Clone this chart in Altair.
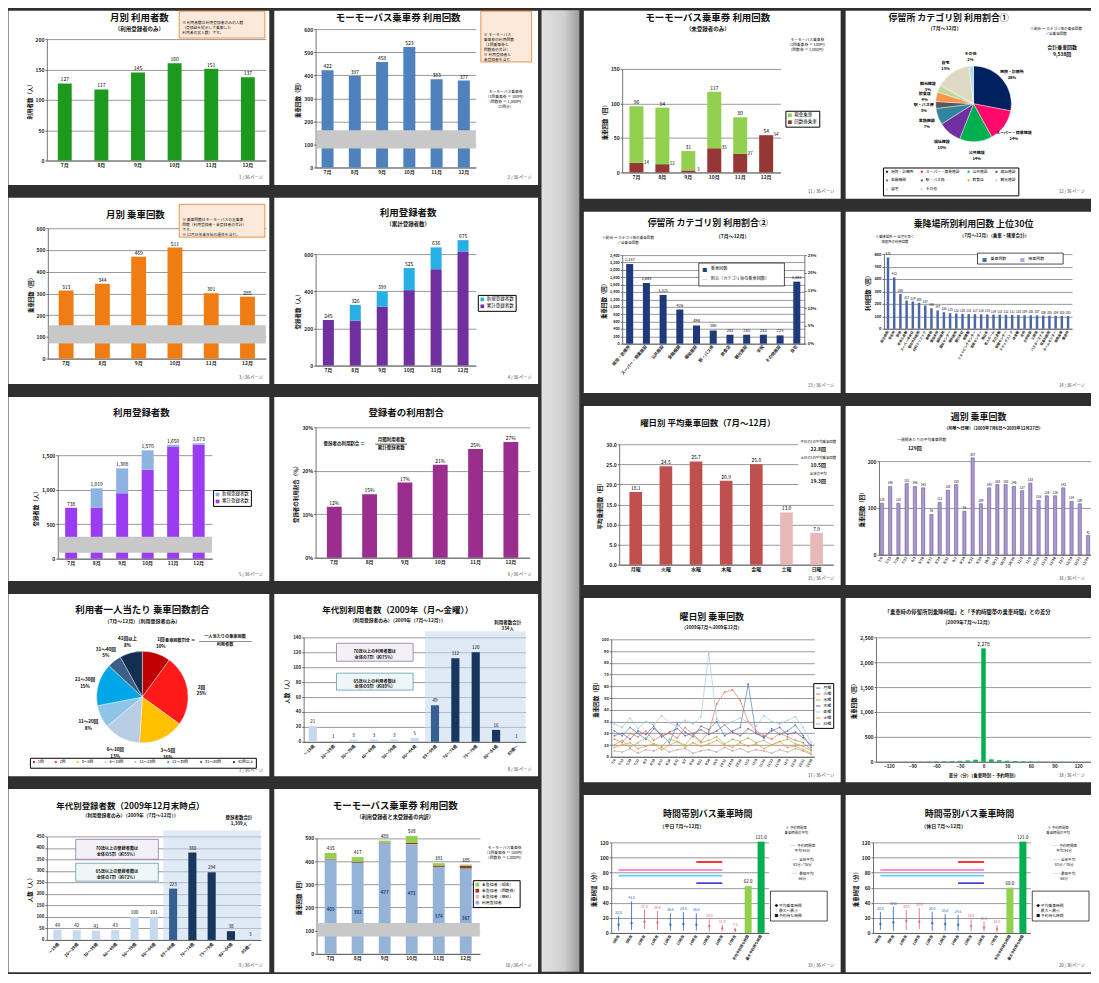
import altair as alt
import pandas as pd

FONT = "Noto Sans CJK JP"
DARK = "#2f2f2f"
GRID = "#8e8e8e"
AXC = "#505050"
NOTE_FILL = "#fde9d9"
NOTE_LINE = "#e46c0a"
COMMA = "format(datum.value, ',')"
ONE = pd.DataFrame({"d": [0]})

# ---------------- data ----------------
MONTHS = ["7月", "8月", "9月", "10月", "11月", "12月"]
L1_USERS = [127, 117, 145, 160, 151, 137]
L2_RIDES = [422, 397, 458, 523, 383, 377]
L3_RIDES = [313, 344, 469, 511, 301, 285]
L4_TOTAL_REG = [245, 242, 317, 406, 519, 614]
L4_NEW_REG = [0, 84, 82, 119, 117, 61]
L5_TOTAL_REG = [738, 738, 949, 1290, 1626, 1650]
L5_NEW_REG = [0, 281, 359, 280, 24, 23]
L6_RATE = [11.7, 14.6, 17.3, 21.4, 25.0, 26.6]
L7_CATS = ["1回", "2回", "3〜5回", "6〜10回", "11〜20回", "21〜30回", "31〜40回", "41回以上"]
L7_PCT = [10, 25, 16, 13, 8, 15, 5, 8]
AGES = ["〜19歳", "20〜29歳", "30〜39歳", "40〜49歳", "50〜59歳", "60〜64歳",
        "65〜69歳", "70〜74歳", "75〜79歳", "80〜84歳", "85歳〜"]
L8_USERS = [21, 1, 3, 3, 3, 5, 49, 112, 120, 16, 1]
L9_REGS = [44, 42, 41, 43, 100, 101, 223, 380, 294, 38, 3]
L10_REG = [405, 392, 477, 471, 374, 367]
L10_FREE = [2, 1, 0, 2, 1, 1]
L10_TICKET = [3, 4, 3, 5, 6, 12]
L10_CASH = [25, 20, 8, 30, 10, 5]

R1_TICKET = [14, 12, 3, 35, 27, 54]
R1_CASH = [82, 82, 28, 82, 53, 0]
R2_CATS = ["病院・診療所", "スーパー・商業施設", "公共施設", "福祉施設", "金融機関",
           "駅・バス停", "飲食店", "観光施設", "自宅", "その他"]
R2_PCT = [28, 14, 14, 10, 7, 3, 4, 3, 15, 2]
R3_CATS = ["病院・診療所", "スーパー・商業施設", "公共施設", "金融機関", "福祉施設",
           "駅・バス停", "飲食店", "観光施設", "学校", "その他施設", "自宅"]
R3_RIDES = [2157, 1645, 1321, 926, 494, 360, 243, 243, 243, 225, 1681]
R3_SHARE = [22.6, 17.2, 13.9, 9.7, 5.2, 3.8, 2.5, 2.5, 2.5, 2.4, 17.6]
R4_NAMES = ["総合病院", "市役所", "駅前", "中央公民館", "スーパー中央店", "整形外科医院",
            "内科クリニック", "郵便局", "農協本所", "歯科医院", "福祉センター", "眼科医院",
            "銀行本店", "図書館", "ショッピングセンター", "温泉センター", "商店街", "老人ホーム",
            "文化会館", "保健センター", "ドラッグストア", "体育館", "支所", "小学校前",
            "公園前", "バスターミナル", "耳鼻科医院", "ホームセンター", "信用金庫", "集会所"]
R4_RIDES = [573, 413, 280, 227, 219, 208, 187, 165, 147, 133, 125, 122, 120, 118, 117,
            116, 115, 114, 113, 112, 111, 110, 109, 108, 107, 106, 105, 104, 103, 102]
WEEKDAYS = ["月曜", "火曜", "水曜", "木曜", "金曜", "土曜", "日曜"]
R5_AVG = [18.1, 24.5, 25.7, 20.9, 25.0, 13.0, 7.9]
WEEKS = ["7/6", "7/13", "7/20", "7/27", "8/3", "8/10", "8/17", "8/24", "8/31", "9/7",
         "9/14", "9/21", "9/28", "10/5", "10/12", "10/19", "10/26", "11/2", "11/9",
         "11/16", "11/23", "11/30", "12/7", "12/14", "12/21", "12/28"]
R6_RIDES = [110, 146, 110, 152, 146, 143, 86, 112, 138, 150, 93, 207, 109, 143, 150,
            150, 146, 137, 153, 116, 126, 126, 143, 114, 109, 41]
R7_MON = [22, 18, 25, 20, 15, 24, 19, 12, 28, 21, 17, 26, 23, 30, 18, 22, 25, 62, 20, 16, 24, 19, 22, 27, 18, 8]
R7_TUE = [15, 12, 20, 17, 22, 14, 18, 20, 16, 25, 19, 13, 21, 45, 55, 57, 48, 30, 22, 18, 15, 20, 17, 14, 12, 6]
R7_WED = [10, 14, 8, 12, 16, 11, 9, 15, 13, 10, 18, 12, 14, 17, 11, 15, 13, 16, 12, 14, 10, 13, 15, 11, 9, 5]
R7_THU = [18, 20, 15, 22, 19, 26, 17, 21, 24, 18, 20, 23, 19, 22, 27, 21, 18, 24, 20, 17, 22, 25, 19, 21, 16, 10]
R7_FRI = [28, 25, 33, 24, 30, 27, 35, 29, 26, 31, 28, 34, 88, 32, 27, 30, 33, 29, 26, 35, 30, 28, 31, 34, 25, 12]
R7_SAT = [8, 10, 12, 7, 9, 11, 6, 10, 13, 8, 12, 9, 11, 14, 10, 8, 12, 9, 11, 7, 10, 13, 8, 9, 6, 3]
R7_SUN = [5, 4, 7, 3, 6, 5, 8, 4, 6, 7, 3, 5, 6, 4, 8, 5, 7, 4, 6, 5, 3, 6, 4, 7, 5, 2]
R8_DIFF = [-120, -110, -100, -90, -80, -70, -60, -50, -40, -30, -20, -10, 0,
           10, 20, 30, 40, 50, 60, 70, 80, 90, 100, 110, 120]
R8_COUNT = [3, 2, 4, 3, 5, 6, 8, 10, 14, 18, 26, 41, 2278, 48, 30, 21, 15, 11, 8, 6, 5, 4, 3, 2, 2]
SLOTS = ["8時台", "9時台", "10時台", "11時台", "12時台", "13時台", "14時台", "15時台", "16時台", "17時台"]
WAIT_NAMES = ["平均予約待ち時間", "最大予約待ち時間"]
R9_MEAN = [11, 13, 15, 14, 11, 12, 11, 9, 6, 4]
R9_MAX = [22, 42, 31, 29, 26, 28, 26, 18, 11, 7]
R9_MIN = [3, 4, 5, 4, 3, 3, 3, 2, 2, 1]
R9_WAIT = [62.0, 121.0]
R10_MEAN = [12, 14, 16, 15, 13, 12, 11, 9, 7, 5]
R10_MAX = [28, 35, 30, 33, 28, 25, 24, 18, 15, 10]
R10_MIN = [4, 3, 4, 5, 3, 3, 3, 2, 2, 1]
R10_WAIT = [60.0, 121.0]
REF_FROM = ["8時台", "8時台", "14時台", "14時台"]
REF_TO = ["16時台", "16時台", "16時台", "16時台"]
REF_VALS = [83.5, 76.0, 94.0, 66.0]

# ---------------- styles ----------------
L7_COLORS = ["#c00000", "#ff1a1a", "#ffc000", "#b9cde5", "#8ec5e6", "#00a6e8", "#3b5f86", "#132e4f"]
R2_COLORS = ["#002060", "#ff0a6c", "#00b050", "#7030a0", "#31859c", "#595959",
             "#f79646", "#c3d69b", "#ddd9c3", "#b7dee8"]
AGE_COLORS = ["#c6d9f1"] * 6 + ["#366092", "#17375e", "#17375e", "#17375e", "#c6d9f1"]
DAY_COLORS = ["#c0504d"] * 5 + ["#e6b9b8", "#e6b9b8"]
R7_COLORS = ["#4f81bd", "#e07b5a", "#9bbb59", "#8064a2", "#a5c8e0", "#f79646", "#c9a0a0"]
SLOT_COLORS = ["#1f5fbf", "#1f5fbf", "#d9607a", "#d9607a", "#1f5fbf", "#1f5fbf",
               "#1f5fbf", "#d9607a", "#d9607a", "#d9607a"]
REF_COLORS = ["#ff66cc", "#66ccff", "#ff0000", "#3333cc"]


# ---------------- helpers ----------------
def bx(cats, x0, x1, pi, po, axis=None, field="c"):
    kw = dict(sort=cats, scale=alt.Scale(domain=cats, range=[x0, x1], paddingInner=pi, paddingOuter=po))
    if axis is not None:
        kw["axis"] = axis
    return alt.X(f"{field}:N", **kw)


def ly(dom, top, bot, field="v", axis=None):
    kw = dict(scale=alt.Scale(domain=dom, range=[bot, top], nice=False, zero=False))
    if axis is not None:
        kw["axis"] = axis
    return alt.Y(f"{field}:Q", **kw)


def yaxis(x0, title, values, expr=None, fs=5.0, orient="left", grid=True):
    kw = dict(orient=orient, offset=-x0, title=title, values=values, tickCount=100, grid=grid,
              gridColor=GRID, gridWidth=0.9, domainColor=AXC, domainWidth=0.8, tickColor=AXC,
              tickSize=2, tickWidth=0.8, labelFontSize=fs, labelFontWeight="bold", labelColor="#222",
              labelPadding=1, labelOverlap=False, titleFontSize=5.5, titleFontWeight="bold",
              titleColor="#111", titlePadding=3)
    if expr:
        kw["labelExpr"] = expr
    return alt.Axis(**kw)


def xaxis(h, bot, angle=0, fs=5.0, values=None):
    kw = dict(offset=-(h - bot), title=None, grid=False, domainColor=AXC, domainWidth=0.8,
              ticks=False, labelFontSize=fs, labelFontWeight="bold", labelColor="#222",
              labelPadding=2, labelAngle=angle, labelOverlap=False)
    if values is not None:
        kw["values"] = values
        kw["tickCount"] = 100
    return alt.Axis(**kw)


def txt(t, x, y, size=5.0, weight="normal", align="center", color="#111"):
    return alt.Chart(ONE).mark_text(fontSize=size, fontWeight=weight, align=align,
                                    baseline="middle", color=color, lineHeight=size * 1.3).encode(
        x=alt.value(x), y=alt.value(y), text=alt.value(t))


def box(x, y, x2, y2, fill="white", stroke="#000000", sw=0.7, opacity=1.0):
    return alt.Chart(ONE).mark_rect(fill=fill, stroke=stroke, strokeWidth=sw, opacity=opacity).encode(
        x=alt.value(x), x2=alt.value(x2), y=alt.value(y), y2=alt.value(y2))


def fillbox(x, y, x2, y2, fill, opacity=1.0):
    return alt.Chart(ONE).mark_rect(fill=fill, opacity=opacity).encode(
        x=alt.value(x), x2=alt.value(x2), y=alt.value(y), y2=alt.value(y2))


def pg(n, w, h):
    return txt(f"{n} / 36 ページ", w - 6, h - 6, 4.2, align="right", color="#333")


def leg(x, y, cols=1, fs=4.5, sym="square", sz=14, direction="vertical", colpad=4):
    return alt.Legend(orient="none", legendX=x, legendY=y, title=None, columns=cols,
                      direction=direction, labelFontSize=fs, symbolSize=sz, symbolType=sym,
                      strokeColor="#000000", fillColor="white", padding=2, rowPadding=1,
                      columnPadding=colpad, labelLimit=150, labelOffset=2, symbolStrokeWidth=1)


def slide(w, h, *layers):
    return alt.layer(*layers).properties(
        width=w, height=h, view=alt.ViewBackground(fill="white", strokeOpacity=0))


def stack_df(cats, series):
    rows = []
    for i, c in enumerate(cats):
        base = 0
        for name, vals in series:
            v = vals[i]
            rows.append({"c": c, "s": name, "lo": base, "hi": base + v, "v": v})
            base += v
    return pd.DataFrame(rows)


def breakband(lo, hi, x0, x1, dom, top, bot):
    df = pd.DataFrame({"lo": [lo], "hi": [hi]})
    return alt.Chart(df).mark_rect(color="#c8c8c8").encode(
        x=alt.value(x0 + 1), x2=alt.value(x1), y=ly(dom, top, bot, "lo"), y2=alt.Y2("hi"))


# ---------------- left group ----------------
def make_L1():
    w, h = 262, 175
    x0, x1, top, bot = 39, 259, 29, 151
    dom = [0, 200]
    df = pd.DataFrame({"c": MONTHS, "v": L1_USERS})
    bars = alt.Chart(df).mark_bar(color="#1d9a1d").encode(
        x=bx(MONTHS, x0, x1, 0.62, 0.3, xaxis(h, bot)),
        y=ly(dom, top, bot, "v", yaxis(x0, "利用者数（人）", [0, 50, 100, 150, 200])))
    lab = alt.Chart(df).mark_text(dy=-4, fontSize=5).encode(
        x=bx(MONTHS, x0, x1, 0.62, 0.3), y=ly(dom, top, bot), text="v:Q")
    return slide(w, h, bars, lab,
                 txt("月別 利用者数", 132, 8, 9.5, "bold"),
                 txt("（利用登録者のみ）", 132, 19, 5.5, "bold"),
                 box(172, 1, 258, 28, NOTE_FILL, NOTE_LINE),
                 txt(["※ 利用者数は利用登録者のみの人数", "（登録証を提示して乗車した", "利用者の実人数）です。"],
                     175, 13, 3.8, align="left"),
                 pg(1, w, h))


def make_L2():
    w, h = 265, 175
    x0, x1, top, bot = 42, 203, 19, 158
    dom = [0, 600]
    df = pd.DataFrame({"c": MONTHS, "v": L2_RIDES})
    X = lambda a=None: bx(MONTHS, x0, x1, 0.56, 0.22, a)
    bars = alt.Chart(df).mark_bar(color="#4f81bd").encode(
        x=X(xaxis(h, bot)), y=ly(dom, top, bot, "v", yaxis(x0, "乗車回数（回）", list(range(0, 601, 100)))))
    lab = alt.Chart(df).mark_text(dy=-4, fontSize=5).encode(x=X(), y=ly(dom, top, bot), text="v:Q")
    return slide(w, h, bars, lab, breakband(82, 162, x0, x1, dom, top, bot),
                 txt("モーモーバス乗車券 利用回数", 125, 8, 9.5, "bold"),
                 box(208, 1, 259, 52, NOTE_FILL, NOTE_LINE),
                 txt(["※ モーモーバス", "乗車券の利用回数", "（1回乗車券と", "回数券の合計）", "※ 利用登録者と", "未登録者を含む"],
                     211, 25, 3.8, align="left"),
                 txt(["モーモーバス乗車券", "（1回乗車券 ＝ 100円）", "（回数券 ＝ 1,000円／", "11回分）"],
                     233, 82, 3.8),
                 pg(2, w, h))


def make_L3():
    w, h = 262, 187
    x0, x1, top, bot = 40, 259, 31, 162
    dom = [0, 600]
    df = pd.DataFrame({"c": MONTHS, "v": L3_RIDES})
    X = lambda a=None: bx(MONTHS, x0, x1, 0.59, 0.3, a)
    bars = alt.Chart(df).mark_bar(color="#f07c14").encode(
        x=X(xaxis(h, bot)), y=ly(dom, top, bot, "v", yaxis(x0, "乗車回数（回）", list(range(0, 601, 100)))))
    lab = alt.Chart(df).mark_text(dy=-4, fontSize=5).encode(x=X(), y=ly(dom, top, bot), text="v:Q")
    return slide(w, h, bars, lab, breakband(69, 153, x0, x1, dom, top, bot),
                 txt("月別 乗車回数", 128, 18, 9.5, "bold"),
                 box(172, 7, 258, 40, NOTE_FILL, NOTE_LINE),
                 txt(["※ 乗車回数はモーモーバスの全乗車", "回数（利用登録者・未登録者の合計）", "です。", "※ 12月は年末年始の運休を含む。"],
                     175, 23, 3.8, align="left"),
                 pg(3, w, h))


def make_L4():
    w, h = 265, 187
    x0, x1, top, bot = 42, 203, 57, 169
    dom = [0, 600]
    X = lambda a=None: bx(MONTHS, x0, x1, 0.59, 0.27, a)
    st = stack_df(MONTHS, [("累計登録者数", L4_TOTAL_REG), ("新規登録者数", L4_NEW_REG)])
    tot = pd.DataFrame({"c": MONTHS, "t": [a + b for a, b in zip(L4_TOTAL_REG, L4_NEW_REG)]})
    bars = alt.Chart(st).mark_bar().encode(
        x=X(xaxis(h, bot)),
        y=ly(dom, top, bot, "hi", yaxis(x0, "登録者数（人）", [0, 200, 400, 600])), y2=alt.Y2("lo"),
        color=alt.Color("s:N", scale=alt.Scale(domain=["新規登録者数", "累計登録者数"],
                                               range=["#27b0e6", "#7030a0"]), legend=leg(205, 98)))
    lab = alt.Chart(tot).mark_text(dy=-4, fontSize=5).encode(x=X(), y=ly(dom, top, bot, "t"), text="t:Q")
    return slide(w, h, bars, lab,
                 txt("利用登録者数", 135, 16, 9.5, "bold"),
                 txt("（累計登録者数）", 135, 27, 5.5, "bold"),
                 pg(4, w, h))


def make_L5():
    w, h = 262, 185
    x0, x1, top, bot = 50, 205, 59, 163
    dom = [0, 1500]
    X = lambda a=None: bx(MONTHS, x0, x1, 0.53, 0.29, a)
    st = stack_df(MONTHS, [("累計登録者数", L5_TOTAL_REG), ("新規登録者数", L5_NEW_REG)])
    tot = pd.DataFrame({"c": MONTHS, "t": [a + b for a, b in zip(L5_TOTAL_REG, L5_NEW_REG)]})
    bars = alt.Chart(st).mark_bar().encode(
        x=X(xaxis(h, bot)),
        y=ly(dom, top, bot, "hi", yaxis(x0, "登録者数（人）", [0, 500, 1000, 1500], expr=COMMA)),
        y2=alt.Y2("lo"),
        color=alt.Color("s:N", scale=alt.Scale(domain=["新規登録者数", "累計登録者数"],
                                               range=["#8db3e2", "#9b3cf2"]), legend=leg(206, 94)))
    lab = alt.Chart(tot).mark_text(dy=-4, fontSize=5).encode(
        x=X(), y=ly(dom, top, bot, "t"), text=alt.Text("t:Q", format=","))
    return slide(w, h, bars, lab, breakband(86, 317, x0, x1, dom, top, bot),
                 txt("利用登録者数", 134, 17, 9.5, "bold"),
                 pg(5, w, h))


def make_L6():
    w, h = 265, 185
    x0, x1, top, bot = 42, 257, 31, 162
    dom = [0, 30]
    df = pd.DataFrame({"c": MONTHS, "v": L6_RATE})
    df["lab"] = [f"{v:.0f}%" for v in L6_RATE]
    X = lambda a=None: bx(MONTHS, x0, x1, 0.58, 0.32, a)
    bars = alt.Chart(df).mark_bar(color="#9b2d8f").encode(
        x=X(xaxis(h, bot)),
        y=ly(dom, top, bot, "v", yaxis(x0, "登録者の利用割合（％）", [0, 10, 20, 30], expr="datum.value + '%'")))
    lab = alt.Chart(df).mark_text(dy=-4, fontSize=5).encode(x=X(), y=ly(dom, top, bot), text="lab:N")
    return slide(w, h, bars, lab,
                 txt("登録者の利用割合", 133, 17, 9.5, "bold"),
                 txt("登録者の利用割合 ＝", 50, 48, 4.5, "bold", align="left"),
                 txt("月間利用者数", 118, 44, 4.5, "bold"),
                 fillbox(102, 47.6, 134, 48.4, "#222222"),
                 txt("累計登録者数", 118, 52, 4.5, "bold"),
                 pg(6, w, h))


def make_L7():
    w, h = 262, 183
    cx, cy = 135, 104
    df = pd.DataFrame({"k": L7_CATS, "v": L7_PCT, "i": list(range(len(L7_CATS)))})
    df["lab"] = [f"{k}\n{v}%" for k, v in zip(L7_CATS, L7_PCT)]
    arc = alt.Chart(df).mark_arc(radius=46, stroke="white", strokeWidth=0.4).encode(
        theta=alt.Theta("v:Q", stack=True), order=alt.Order("i:Q"),
        color=alt.Color("k:N", scale=alt.Scale(domain=L7_CATS, range=L7_COLORS),
                        legend=leg(22, 165, cols=8, fs=3.8, sz=8, direction="horizontal", colpad=8)),
        x=alt.value(cx), y=alt.value(cy))
    lab = alt.Chart(df).mark_text(radius=60, fontSize=4.6, fontWeight="bold", lineBreak="\n").encode(
        theta=alt.Theta("v:Q", stack=True), order=alt.Order("i:Q"), text="lab:N",
        x=alt.value(cx), y=alt.value(cy))
    return slide(w, h, arc, lab,
                 txt("利用者一人当たり 乗車回数割合", 135, 17, 9.5, "bold"),
                 txt("（7月〜12月）（利用登録者のみ）", 135, 28, 5, "bold"),
                 txt("乗車回数割合 ＝", 188, 48, 4.2, "bold", align="right"),
                 txt("一人当たりの乗車回数", 218, 44, 4.2, "bold"),
                 fillbox(192, 47.6, 245, 48.3, "#222222"),
                 txt("利用者数", 218, 52, 4.2, "bold"),
                 pg(7, w, h + 1))


def age_slide(w, h, x0, x1, top, bot, pi, po, dom, ticks, vals, shade_x, title, sub, total, c1, c2, n):
    df = pd.DataFrame({"c": AGES, "v": vals, "col": AGE_COLORS})
    X = lambda a=None: bx(AGES, x0, x1, pi, po, a)
    bars = alt.Chart(df).mark_bar().encode(
        x=X(xaxis(h, bot, -45, 4.2)), y=ly(dom, top, bot, "v", yaxis(x0, "人数（人）", ticks, fs=4.5)),
        color=alt.Color("col:N", scale=None))
    lab = alt.Chart(df).mark_text(dy=-4, fontSize=4.5).encode(x=X(), y=ly(dom, top, bot), text="v:Q")
    return slide(w, h,
                 fillbox(shade_x, top - 6, x1, bot, "#c6d9f1", 0.55),
                 bars, lab,
                 txt(title, w / 2 - 8, 17, 8.5, "bold"),
                 txt(sub, w / 2 - 8, 28, 4.8, "bold"),
                 txt(total, w - 30, 30, 4.5, "bold"),
                 box(c1[0], c1[1], c1[2], c1[3], "#f4f0f8", "#8064a2"),
                 txt(c1[4], (c1[0] + c1[2]) / 2, (c1[1] + c1[3]) / 2, 4.2, "bold"),
                 box(c2[0], c2[1], c2[2], c2[3], "#eef6f8", "#4b8ea6"),
                 txt(c2[4], (c2[0] + c2[2]) / 2, (c2[1] + c2[3]) / 2, 4.2, "bold"),
                 pg(n, w, h))


def make_L8():
    return age_slide(265, 183, 30, 253, 44, 149, 0.6, 0.25, [0, 140], list(range(0, 141, 20)),
                     L8_USERS, 152, "年代別利用者数（2009年（月〜金曜））",
                     "（利用登録者のみ）（2009年（7月〜12月））", ["利用者数合計", "334人"],
                     (63, 50, 140, 68, ["70歳以上の利用者数は", "全体の7割（約75%）"]),
                     (63, 80, 140, 97, ["65歳以上の利用者数は", "全体の9割（約89%）"]), 8)


def make_L9():
    return age_slide(262, 184, 39, 254, 48, 152, 0.58, 0.34, [0, 450], list(range(0, 451, 50)),
                     L9_REGS, 156, "年代別登録者数（2009年12月末時点）",
                     "（利用登録者のみ）（2009年（7月〜12月））", ["登録者数合計", "1,309人"],
                     (68, 51, 151, 71, ["70歳以上の登録者数は", "全体の5割（約55%）"]),
                     (68, 75, 151, 93, ["65歳以上の登録者数は", "全体の7割（約72%）"]), 9)


def make_L10():
    w, h = 265, 184
    x0, x1, top, bot = 43, 207, 49.5, 166
    dom = [0, 500]
    X = lambda a=None: bx(MONTHS, x0, x1, 0.56, 0.3, a)
    names = ["未登録者（現金）", "未登録者（回数券）", "未登録者（無料）", "利用登録者"]
    cols = ["#92d050", "#953735", "#e6b9b8", "#95b3d7"]
    st = stack_df(MONTHS, [(names[3], L10_REG), (names[2], L10_FREE),
                           (names[1], L10_TICKET), (names[0], L10_CASH)])
    tot = pd.DataFrame({"c": MONTHS, "t": [a + b + c + d for a, b, c, d in
                                             zip(L10_REG, L10_FREE, L10_TICKET, L10_CASH)],
                        "r": L10_REG})
    bars = alt.Chart(st).mark_bar().encode(
        x=X(xaxis(h, bot)),
        y=ly(dom, top, bot, "hi", yaxis(x0, "乗車回数（回）", list(range(0, 501, 100)))), y2=alt.Y2("lo"),
        color=alt.Color("s:N", scale=alt.Scale(domain=names, range=cols), legend=leg(200, 92, fs=4)))
    lab = alt.Chart(tot).mark_text(dy=-4, fontSize=4.8).encode(x=X(), y=ly(dom, top, bot, "t"), text="t:Q")
    rlab = alt.Chart(tot).mark_text(fontSize=4.5, color="#1f3a7a", fontWeight="bold", dy=50).encode(
        x=X(), y=ly(dom, top, bot, "r"), text="r:Q")
    return slide(w, h, bars, lab, rlab, breakband(75, 133, x0, x1, dom, top, bot),
                 txt("モーモーバス乗車券 利用回数", 122, 17, 9.5, "bold"),
                 txt("（利用登録者と未登録者の内訳）", 122, 29, 5.2, "bold"),
                 txt(["モーモーバス乗車券", "（1回乗車券 ＝ 100円）", "（回数券 ＝ 1,000円）"], 232, 60, 3.8),
                 pg(10, w, h))


# ---------------- right group ----------------
def make_R1():
    w, h = 258, 189
    x0, x1, top, bot = 39, 198, 59, 163
    dom = [0, 150]
    X = lambda a=None: bx(MONTHS, x0, x1, 0.46, 0.28, a)
    names = ["現金乗車", "回数券乗車"]
    st = stack_df(MONTHS, [(names[1], R1_TICKET), (names[0], R1_CASH)])
    tot = pd.DataFrame({"c": MONTHS, "t": [a + b for a, b in zip(R1_TICKET, R1_CASH)], "r": R1_TICKET})
    bars = alt.Chart(st).mark_bar().encode(
        x=X(xaxis(h, bot)),
        y=ly(dom, top, bot, "hi", yaxis(x0, "乗車回数（回）", [0, 50, 100, 150])), y2=alt.Y2("lo"),
        color=alt.Color("s:N", scale=alt.Scale(domain=names, range=["#92d050", "#953735"]),
                        legend=leg(203, 101)))
    lab = alt.Chart(tot).mark_text(dy=-4, fontSize=5).encode(x=X(), y=ly(dom, top, bot, "t"), text="t:Q")
    rl = alt.Chart(tot).mark_text(dx=10, fontSize=4.5).encode(x=X(), y=ly(dom, top, bot, "r"), text="r:Q")
    return slide(w, h, bars, lab, rl,
                 txt("モーモーバス乗車券 利用回数", 125, 8, 9.5, "bold"),
                 txt("（未登録者のみ）", 125, 19, 5.5, "bold"),
                 txt(["モーモーバス乗車券", "（1回乗車券 ＝ 100円）", "（回数券 ＝ 1,000円）"], 225, 30, 3.8),
                 pg(11, w, h))


def make_R2():
    w, h = 247, 189
    cx, cy = 129, 94
    df = pd.DataFrame({"k": R2_CATS, "v": R2_PCT, "i": list(range(len(R2_CATS)))})
    df["lab"] = [f"{k}\n{v}%" for k, v in zip(R2_CATS, R2_PCT)]
    arc = alt.Chart(df).mark_arc(radius=38, stroke="white", strokeWidth=0.4).encode(
        theta=alt.Theta("v:Q", stack=True), order=alt.Order("i:Q"),
        color=alt.Color("k:N", scale=alt.Scale(domain=R2_CATS, range=R2_COLORS),
                        legend=leg(38, 158, cols=4, fs=3.8, sz=9, direction="horizontal")),
        x=alt.value(cx), y=alt.value(cy))
    lab = alt.Chart(df).mark_text(radius=50, fontSize=4, fontWeight="bold", lineBreak="\n").encode(
        theta=alt.Theta("v:Q", stack=True), order=alt.Order("i:Q"), text="lab:N",
        x=alt.value(cx), y=alt.value(cy))
    return slide(w, h, arc, lab,
                 txt("停留所 カテゴリ別 利用割合①", 104, 8, 9, "bold"),
                 txt("（7月〜12月）", 100, 18, 5, "bold"),
                 txt(["※割合 ＝ カテゴリ毎の乗車回数", "／全乗車回数"], 212, 19, 3.6),
                 txt(["合計乗車回数", "9,538回"], 218, 37, 5, "bold"),
                 pg(12, w, h))


def make_R3():
    w, h = 258, 182
    x0, x1, top, bot = 39, 222, 44, 133
    dom = [0, 2400]
    df = pd.DataFrame({"c": R3_CATS, "v": R3_RIDES, "p": R3_SHARE})
    X = lambda a=None: bx(R3_CATS, x0, x1, 0.58, 0.24, a)
    bars = alt.Chart(df).mark_bar(color="#1f3a7a").encode(
        x=X(xaxis(h, bot, -50, 4.2)),
        y=ly(dom, top, bot, "v", yaxis(x0, "乗車回数（回）", list(range(0, 2401, 200)), expr=COMMA, fs=3.6)))
    lab = alt.Chart(df).mark_text(dy=-4, fontSize=4).encode(
        x=X(), y=ly(dom, top, bot), text=alt.Text("v:Q", format=","))
    inner = alt.layer(bars, lab,
                      box(116, 52, 202, 75),
                      txt("■", 122, 58, 5, color="#1f3a7a"),
                      txt("乗車回数", 128, 58, 4.2, align="left"),
                      txt("─", 122, 68, 5, color="#333333"),
                      txt("割合（カテゴリ毎の乗車回数）", 128, 68, 4.2, align="left"),
                      txt("停留所 カテゴリ別 利用割合②", 125, 12, 9, "bold"),
                      txt("（7月〜12月）", 150, 25, 5, "bold"),
                      txt(["※割合 ＝ カテゴリ毎の乗車回数", "／全乗車回数"], 45, 27, 3.6),
                      pg(13, w, h))
    pr = alt.Chart(df).mark_point(opacity=0).encode(
        x=X(),
        y=alt.Y("p:Q", scale=alt.Scale(domain=[0, 25], range=[bot, top], nice=False, zero=False),
                axis=yaxis(w - x1, None, [0, 5, 10, 15, 20, 25], expr="datum.value + '%'",
                           fs=4, orient="right", grid=False)))
    return alt.layer(inner, pr).resolve_scale(y="independent").properties(
        width=w, height=h, view=alt.ViewBackground(fill="white", strokeOpacity=0))


def make_R4():
    w, h = 247, 182
    x0, x1, top, bot = 39, 228, 43, 118
    dom = [0, 600]
    df = pd.DataFrame({"c": R4_NAMES, "v": R4_RIDES})
    X = lambda a=None: bx(R4_NAMES, x0, x1, 0.6, 0.45, a)
    bars = alt.Chart(df).mark_bar(color="#4a67a8").encode(
        x=X(xaxis(h, bot, -60, 3.3)),
        y=ly(dom, top, bot, "v", yaxis(x0, "利用回数（回）", list(range(0, 601, 100)), fs=4)))
    lab = alt.Chart(df).mark_text(dy=-3, fontSize=3).encode(x=X(), y=ly(dom, top, bot), text="v:Q")
    return slide(w, h, bars, lab,
                 txt("乗降場所別利用回数 上位30位", 129, 13, 9, "bold"),
                 txt("（7月〜12月）（乗車・降車合計）", 150, 25, 4.6, "bold"),
                 txt(["※乗降場所 ＝ 自宅を除く", "停留所の利用回数"], 50, 26, 3.4),
                 box(133, 42, 219, 53),
                 txt("■", 140, 47.5, 5, color="#4a67a8"),
                 txt("乗車回数", 146, 47.5, 4, align="left"),
                 txt("■", 178, 47.5, 5, color="#9fb3dd"),
                 txt("降車回数", 184, 47.5, 4, align="left"),
                 pg(14, w, h))


def make_R5():
    w, h = 258, 180
    x0, x1, top, bot = 36, 251, 39, 160
    dom = [0, 30]
    df = pd.DataFrame({"c": WEEKDAYS, "v": R5_AVG, "col": DAY_COLORS})
    X = lambda a=None: bx(WEEKDAYS, x0, x1, 0.58, 0.34, a)
    bars = alt.Chart(df).mark_bar().encode(
        x=X(xaxis(h, bot)),
        y=ly(dom, top, bot, "v", yaxis(x0, "平均乗車回数（回）", [0, 5, 10, 15, 20, 25, 30])),
        color=alt.Color("col:N", scale=None))
    lab = alt.Chart(df).mark_text(dy=-4, fontSize=5).encode(
        x=X(), y=ly(dom, top, bot), text=alt.Text("v:Q", format=".1f"))
    return slide(w, h, bars, lab,
                 txt("曜日別 平均乗車回数（7月〜12月）", 125, 18, 8.5, "bold"),
                 fillbox(216, 33, 256, 84, "white"),
                 txt("平日の1日平均乗車回数", 236, 37, 3.4),
                 txt("22.8回", 236, 44, 5, "bold"),
                 txt("土日の1日平均乗車回数", 236, 53, 3.4),
                 txt("10.5回", 236, 60, 5, "bold"),
                 txt("全体の平均", 236, 69, 3.4),
                 txt("19.3回", 236, 76, 5, "bold"),
                 pg(15, w, h))


def make_R6():
    w, h = 247, 180
    x0, x1, top, bot = 34, 247, 56, 150
    dom = [0, 200]
    df = pd.DataFrame({"c": WEEKS, "v": R6_RIDES})
    X = lambda a=None: bx(WEEKS, x0, x1, 0.6, 0.16, a)
    bars = alt.Chart(df).mark_bar(color="#a898cc", stroke="#5c4a8c", strokeWidth=0.5).encode(
        x=X(xaxis(h, bot, -60, 3.5)),
        y=ly(dom, top, bot, "v", yaxis(x0, "乗車回数（回）", [0, 100, 200])))
    lab = alt.Chart(df).mark_text(dy=-3, fontSize=3).encode(x=X(), y=ly(dom, top, bot), text="v:Q")
    return slide(w, h, bars, lab,
                 txt("週別 乗車回数", 134, 12, 9, "bold"),
                 txt("（月曜〜日曜）（2009年7月6日〜2009年12月27日）", 149, 24, 4.2, "bold"),
                 txt("一週間あたりの平均乗車回数", 77, 35, 3.8),
                 txt("129回", 70, 43, 5, "bold"),
                 pg(16, w, h))


def make_R7():
    w, h = 258, 185
    x0, x1, top, bot = 28, 232, 42, 160
    series = [("月曜", R7_MON), ("火曜", R7_TUE), ("水曜", R7_WED), ("木曜", R7_THU),
              ("金曜", R7_FRI), ("土曜", R7_SAT), ("日曜", R7_SUN)]
    rows = [{"w": WEEKS[i], "d": name, "v": vals[i]} for name, vals in series for i in range(len(WEEKS))]
    df = pd.DataFrame(rows)
    X = alt.X("w:N", sort=WEEKS, axis=xaxis(h, bot, -60, 3.3),
              scale=alt.Scale(type="point", domain=WEEKS, range=[x0, x1], padding=0.4))
    lines = alt.Chart(df).mark_line(strokeWidth=0.7, point=alt.OverlayMarkDef(size=3, filled=True)).encode(
        x=X, y=ly([0, 100], top, bot, "v", yaxis(x0, "乗車回数（回）", list(range(0, 101, 10)), fs=4)),
        color=alt.Color("d:N", scale=alt.Scale(domain=WEEKDAYS, range=R7_COLORS),
                        legend=leg(231, 86, fs=4, sym="stroke", sz=20)))
    return slide(w, h, lines,
                 txt("曜日別 乗車回数", 129, 20, 9, "bold"),
                 txt("（2009年7月〜2009年12月）", 129, 31, 4.5, "bold"),
                 pg(17, w, h))


def make_R8():
    w, h = 247, 185
    x0, top, bot = 31, 40, 165
    dom = [0, 2500]
    df = pd.DataFrame({"m": R8_DIFF, "n": R8_COUNT})

    def X(a=None):
        kw = dict(scale=alt.Scale(domain=[-130, 130], range=[x0, 247], nice=False, zero=False))
        if a is not None:
            kw["axis"] = a
        return alt.X("m:Q", **kw)
    bars = alt.Chart(df).mark_bar(color="#00b050", size=4.5).encode(
        x=X(xaxis(h, bot, 0, 4.5, [-120, -90, -60, -30, 0, 30, 60, 90, 120])),
        y=ly(dom, top, bot, "n", yaxis(x0, "乗車回数（回）", list(range(0, 2501, 500)), expr=COMMA)))
    lab = alt.Chart(df).transform_filter(alt.datum.n > 1000).mark_text(dy=-4, fontSize=5).encode(
        x=X(), y=ly(dom, top, bot, "n"), text=alt.Text("n:Q", format=","))
    return slide(w, h, bars, lab,
                 txt("「乗車時の停留所別乗降時間」と「予約時間帯の乗車時間」との差分", 123, 15, 5.4, "bold"),
                 txt("（2009年7月〜12月）", 123, 25, 5, "bold"),
                 txt("差分（分）（乗車時刻 − 予約時刻）", 139, 179, 4.5, "bold"),
                 pg(18, w, h))


def make_R9(w, mean, mx, mn, waits, sub, n):
    h = 178
    x0, x1, top, bot = 28, 186, 48, 139
    dom = [0, 120]
    cats = SLOTS + WAIT_NAMES
    X = lambda a=None, f="c": bx(cats, x0, x1, 0.46, 0.3, a, f)
    g = pd.DataFrame({"c": WAIT_NAMES, "v": waits, "col": ["#92d050", "#00b050"]})
    s = pd.DataFrame({"c": SLOTS, "m": mean, "hi": mx, "lo": mn, "col": SLOT_COLORS})
    r = pd.DataFrame({"a": REF_FROM, "b": REF_TO, "v": REF_VALS, "col": REF_COLORS})
    gb = alt.Chart(g).mark_bar().encode(
        x=X(xaxis(h, bot, -60, 3.6)),
        y=ly(dom, top, bot, "v", yaxis(x0, "乗車時間（分）", list(range(0, 121, 20)))),
        color=alt.Color("col:N", scale=None))
    gl = alt.Chart(g).mark_text(dy=-4, fontSize=4.5).encode(
        x=X(), y=ly(dom, top, bot), text=alt.Text("v:Q", format=".1f"))
    refs = alt.Chart(r).mark_rule(strokeWidth=1.6).encode(
        x=X(None, "a"), x2=alt.X2("b"), y=ly(dom, top, bot, "v"), color=alt.Color("col:N", scale=None))
    rules = alt.Chart(s).mark_rule(strokeWidth=0.8).encode(
        x=X(), y=ly(dom, top, bot, "lo"), y2=alt.Y2("hi"), color=alt.Color("col:N", scale=None))
    pts = alt.Chart(s).mark_point(shape="diamond", filled=True, size=10).encode(
        x=X(), y=ly(dom, top, bot, "m"), color=alt.Color("col:N", scale=None))
    tl = alt.Chart(s).mark_text(dy=-3, fontSize=3.4).encode(
        x=X(), y=ly(dom, top, bot, "hi"), text=alt.Text("hi:Q", format=".1f"),
        color=alt.Color("col:N", scale=None))
    return slide(w, h, gb, gl, refs, rules, pts, tl,
                 txt("時間帯別バス乗車時間", 125, 20, 9, "bold"),
                 txt(sub, 99, 32, 5, "bold"),
                 txt(["※ 予約時間帯", "乗車時間の平均"], 214, 34, 3.4),
                 txt(["── 予約時間帯", "平均 94分"], 220, 52, 3.6),
                 txt(["── 全体平均", "83分／76分"], 220, 66, 3.6),
                 txt(["── 最短平均", "66分"], 220, 80, 3.6),
                 box(188, 97, 245, 127),
                 txt(["◆ 平均乗車時間", "│ 最大〜最小", "■ 予約待ち時間"], 192, 112, 3.8, align="left"),
                 pg(n, w, h))


# ---------------- assemble ----------------
def row(a, b):
    return alt.hconcat(a, b, spacing=5).resolve_scale(color="independent")


left = alt.vconcat(row(make_L1(), make_L2()), row(make_L3(), make_L4()), row(make_L5(), make_L6()),
                   row(make_L7(), make_L8()), row(make_L9(), make_L10()),
                   spacing=13).resolve_scale(color="independent")

right = alt.vconcat(row(make_R1(), make_R2()), row(make_R3(), make_R4()), row(make_R5(), make_R6()),
                    row(make_R7(), make_R8()),
                    row(make_R9(258, R9_MEAN, R9_MAX, R9_MIN, R9_WAIT, "（平日 7月〜12月）", 19),
                        make_R9(247, R10_MEAN, R10_MAX, R10_MIN, R10_WAIT, "（休日 7月〜12月）", 20)),
                    spacing=13).resolve_scale(color="independent")

gap = alt.Chart(ONE).mark_rect(
    color=alt.LinearGradient(gradient="linear",
                             stops=[alt.GradientStop(color="#e2e2e2", offset=0),
                                    alt.GradientStop(color="#cfcfcf", offset=0.6),
                                    alt.GradientStop(color="#9c9c9c", offset=1)],
                             x1=0, x2=1, y1=0, y2=0)).encode(
    x=alt.value(0), x2=alt.value(38), y=alt.value(0), y2=alt.value(966)).properties(
    width=38, height=966, view=alt.ViewBackground(strokeOpacity=0))

chart = alt.hconcat(left, gap, right, spacing=4).resolve_scale(color="independent").properties(
    background=DARK, padding=0).configure(font=FONT).configure_view(strokeOpacity=0)

chart.save("out.html", embed_options={"renderer": "svg", "actions": False})
